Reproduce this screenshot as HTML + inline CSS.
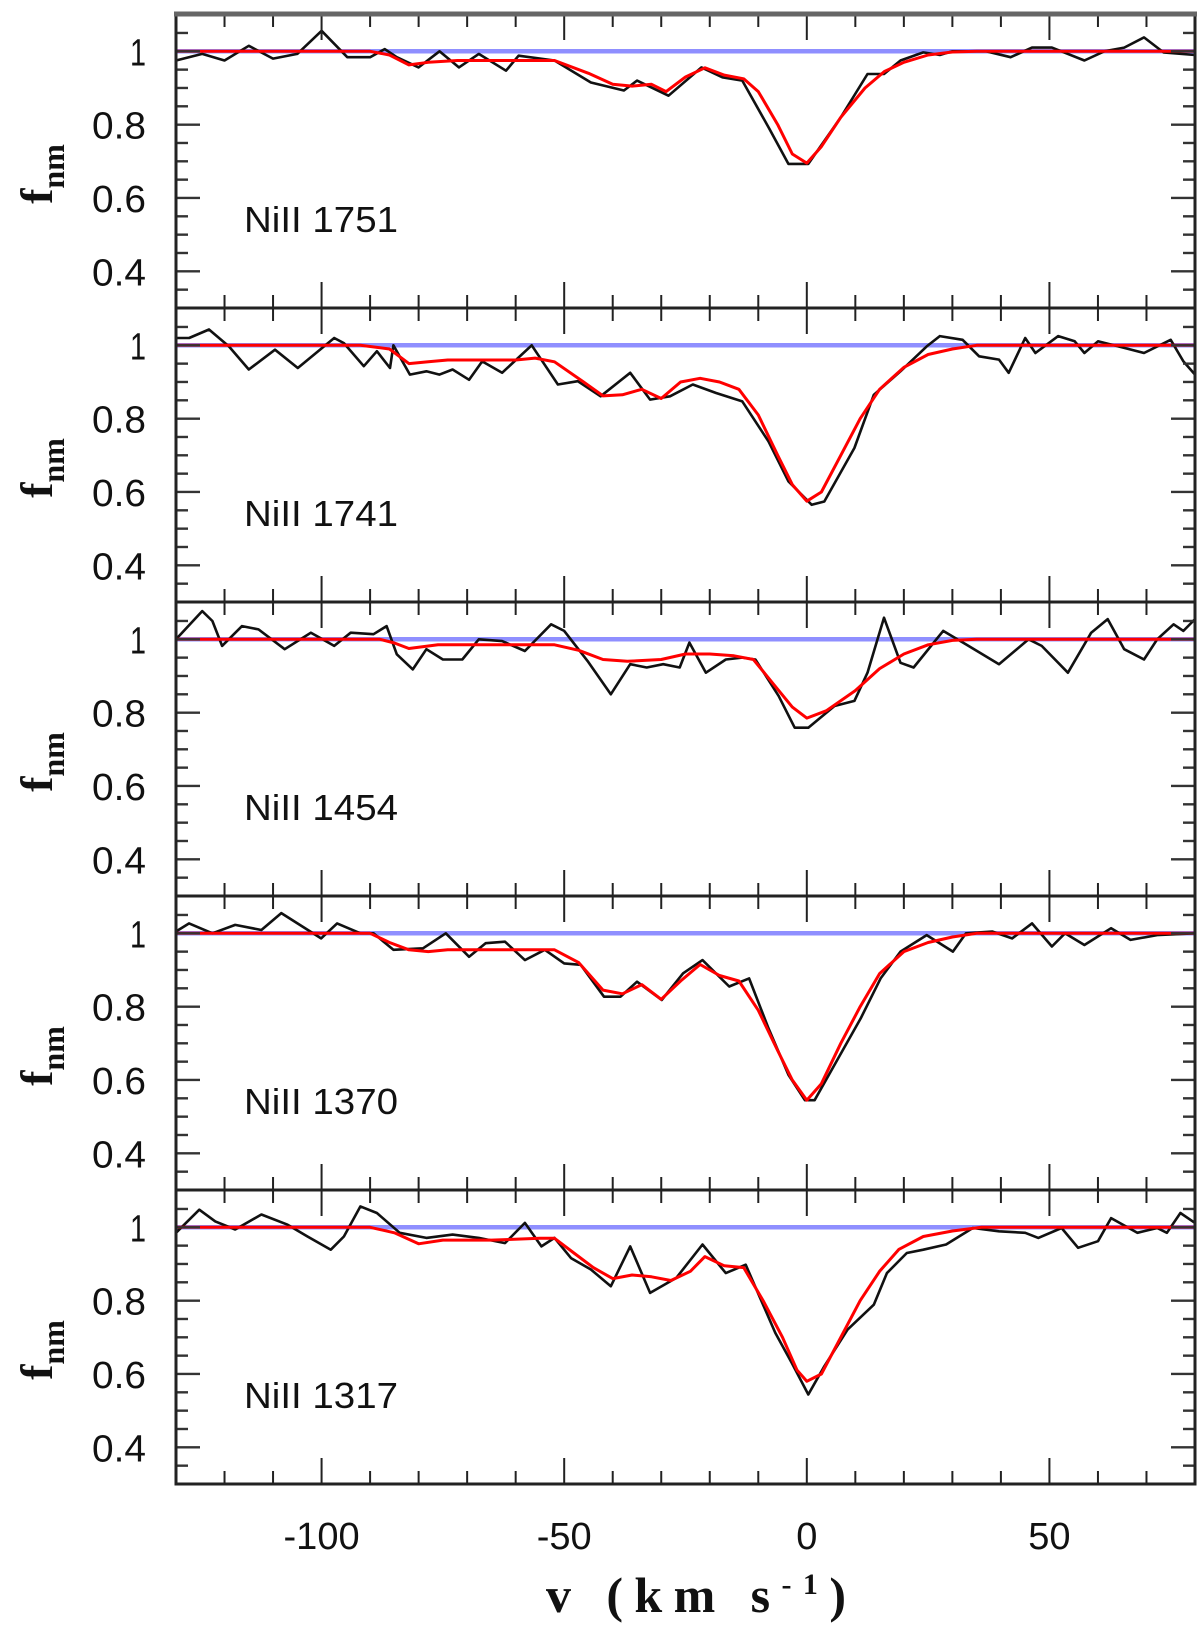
<!DOCTYPE html>
<html><head><meta charset="utf-8">
<style>
html,body{margin:0;padding:0;background:#fff;}
svg{display:block;}
</style></head>
<body>
<svg id="chart" width="1200" height="1630" viewBox="0 0 1200 1630" xmlns="http://www.w3.org/2000/svg"></svg>
<script>
// ---- data ----
const panelLabels = ["NiII 1751","NiII 1741","NiII 1454","NiII 1370","NiII 1317"];
const yTickValues = [0.4,0.6,0.8,1];
const yTickLabels = ["0.4","0.6","0.8","1"];
const xTickValues = [-100,-50,0,50];
const xTickLabels = ["-100","-50","0","50"];

const v1 = [-130,-124.6,-120,-115,-110,-105,-100,-94.7,-90,-87,-84.5,-80,-75.7,-71.7,-67.6,-62,-59.4,-52,-44.5,-37.7,-35,-28.5,-21.7,-17.4,-13.3,-7.9,-3.8,0.3,7,12.5,15.9,19.3,24,27.4,30,37,42,46.4,50.5,57.2,61.3,65.4,69.5,73.5,80];
const f1 = [0.975,0.993,0.975,1.015,0.98,0.993,1.056,0.984,0.984,1.006,0.984,0.956,1.0,0.956,0.993,0.947,0.988,0.975,0.915,0.893,0.92,0.879,0.956,0.929,0.92,0.793,0.693,0.693,0.82,0.938,0.938,0.975,0.997,0.99,1.0,1.0,0.984,1.01,1.01,0.975,1.0,1.01,1.038,0.997,0.99];
const mv1 = [-130,-90,-86,-82,-78,-72,-60,-52,-45,-40,-36,-32,-29,-25,-21,-17,-13,-10,-6,-3,0,3,7,12,16,20,25,30,35,80];
const mf1 = [1,1,0.99,0.963,0.97,0.975,0.975,0.975,0.94,0.91,0.905,0.91,0.89,0.93,0.955,0.935,0.925,0.89,0.80,0.72,0.695,0.74,0.82,0.9,0.945,0.97,0.99,0.998,1,1];

const v2 = [-130,-127.3,-123.2,-119.1,-115,-109.6,-104.9,-97.4,-95.4,-91.3,-88.6,-85.9,-85.2,-81.8,-78.4,-75.7,-73,-69.6,-66.9,-62.8,-56.7,-51.3,-47.2,-42.5,-36.4,-32.3,-28.2,-23.5,-18.7,-13.3,-7.9,-3.8,1,3.6,9.8,13.8,19.3,24.7,27.4,32.1,35.5,39.6,41.6,45,47.1,51.8,55.2,57.2,60,65.4,69.5,75,77.6,80];
const f2 = [1.02,1.02,1.043,0.997,0.934,0.988,0.938,1.02,1.006,0.943,0.984,0.938,1.0,0.92,0.929,0.92,0.934,0.906,0.956,0.925,1.0,0.893,0.902,0.861,0.925,0.852,0.861,0.893,0.87,0.847,0.738,0.629,0.565,0.574,0.72,0.865,0.929,0.997,1.025,1.015,0.97,0.961,0.925,1.02,0.979,1.025,1.011,0.979,1.011,0.993,0.979,1.015,0.956,0.92];
const mv2 = [-130,-92,-86,-82,-78,-74,-60,-56,-52,-46,-42,-38,-34,-30,-26,-22,-18,-14,-10,-6,-3,0,3,7,11,15,20,25,30,35,80];
const mf2 = [1,1,0.99,0.95,0.955,0.96,0.96,0.965,0.955,0.9,0.862,0.865,0.88,0.855,0.9,0.91,0.9,0.88,0.81,0.7,0.62,0.575,0.6,0.7,0.8,0.88,0.94,0.975,0.99,1,1];

const v3 = [-130,-124.6,-122.5,-120.5,-116.4,-113,-107.6,-102.2,-97.4,-94,-89.3,-86.6,-84.5,-81.2,-78.4,-75,-71,-67.6,-62.8,-58.1,-52.7,-50,-45.2,-40.4,-36.4,-33,-29.6,-26.2,-24.2,-20.8,-16.7,-13.3,-10.6,-5.8,-2.5,0.3,5.7,9.8,12.5,15.9,19.3,22,28.1,32.8,39.6,45.7,48.4,53.8,58.6,62,65.4,69.5,72.2,75.6,77.6,80];
const f3 = [1.0,1.077,1.05,0.982,1.036,1.027,0.973,1.018,0.982,1.018,1.014,1.036,0.959,0.918,0.973,0.945,0.945,1.0,0.995,0.968,1.041,1.023,0.941,0.85,0.932,0.923,0.932,0.923,0.991,0.909,0.945,0.95,0.945,0.845,0.759,0.759,0.818,0.832,0.909,1.059,0.936,0.923,1.023,0.986,0.932,1.0,0.982,0.909,1.018,1.055,0.973,0.945,1.0,1.041,1.023,1.055];
const mv3 = [-130,-88,-85,-82,-76,-65,-52,-47,-42,-37,-30,-25,-20,-15,-11,-7,-3,0,4,10,15,20,25,30,35,80];
const mf3 = [1,1,0.99,0.975,0.985,0.985,0.985,0.97,0.945,0.94,0.945,0.96,0.96,0.955,0.945,0.88,0.815,0.785,0.805,0.86,0.92,0.96,0.985,0.997,1,1];

const v4 = [-130,-127.3,-122.5,-117.8,-112.4,-108.3,-100.1,-96.8,-92,-89.3,-85.2,-79.1,-74.4,-69.6,-66.2,-62.2,-58.1,-54,-50,-46.6,-41.8,-38.4,-35,-29.9,-25.5,-21.5,-16,-11.9,-7.9,-3.8,-0.4,1.6,5.7,11.1,15.2,19.3,24.7,30.1,32.8,38.2,42.3,46.4,50.5,53.2,57.2,62.7,66.7,72.2,80];
const f4 = [1.005,1.027,1.0,1.023,1.009,1.055,0.986,1.027,1.0,1.0,0.955,0.959,1.0,0.936,0.973,0.977,0.927,0.955,0.918,0.914,0.827,0.827,0.868,0.818,0.891,0.927,0.855,0.877,0.741,0.614,0.545,0.545,0.641,0.768,0.877,0.95,0.995,0.95,1.0,1.005,0.986,1.027,0.964,1.0,0.968,1.014,0.982,0.995,1.0];
const mv4 = [-130,-90,-86,-82,-78,-74,-66,-58,-52,-47,-42,-38,-34,-30,-26,-22,-18,-14,-10,-6,-3,0,3,7,11,15,20,25,30,35,80];
const mf4 = [1,1,0.975,0.955,0.95,0.955,0.955,0.955,0.955,0.92,0.845,0.835,0.86,0.82,0.87,0.915,0.885,0.87,0.79,0.68,0.6,0.545,0.59,0.7,0.8,0.89,0.95,0.975,0.99,1,1];

const v5 = [-130,-125.2,-121.9,-117.8,-112.4,-107,-102.9,-98.1,-95.4,-92,-88.6,-83.9,-78.4,-73,-67.6,-62.2,-58.1,-54.7,-52,-48.6,-44.5,-40.4,-36.4,-32.3,-26.9,-21.5,-16.7,-12.6,-6.5,-3.1,0.3,3.6,8.4,13.8,16.5,20.6,24,28.7,34.2,39.6,45,47.7,52.5,55.9,60,62.7,68.1,72.2,74.2,77,80];
const f5 = [0.985,1.048,1.016,0.994,1.035,1.007,0.975,0.939,0.975,1.057,1.039,0.985,0.971,0.98,0.971,0.957,1.012,0.948,0.971,0.916,0.885,0.839,0.948,0.821,0.862,0.953,0.875,0.898,0.712,0.63,0.544,0.621,0.721,0.789,0.875,0.93,0.939,0.953,0.998,0.989,0.985,0.971,0.998,0.944,0.962,1.025,0.985,0.998,0.985,1.039,1.012];
const mv5 = [-130,-90,-85,-80,-75,-65,-55,-52,-48,-44,-40,-36,-32,-28,-24,-21,-17,-13,-9,-5,-2,0,3,7,11,15,19,24,30,36,80];
const mf5 = [1,1,0.985,0.955,0.965,0.965,0.97,0.97,0.93,0.89,0.86,0.87,0.865,0.855,0.88,0.92,0.895,0.89,0.8,0.7,0.61,0.58,0.6,0.7,0.8,0.88,0.94,0.975,0.99,1,1];

const dataV = [v1,v2,v3,v4,v5];
const dataF = [f1,f2,f3,f4,f5];
const modelV = [mv1,mv2,mv3,mv4,mv5];
const modelF = [mf1,mf2,mf3,mf4,mf5];

// ---- layout ----
const NS = "http://www.w3.org/2000/svg";
const svg = document.getElementById("chart");
const X0 = 176, X1 = 1195, TOP = 14, PH = 294;
const XMIN = -130, XMAX = 80, YMIN = 0.3, YMAX = 1.1017;
function xs(v){ return X0 + (v - XMIN) / (XMAX - XMIN) * (X1 - X0); }
function ys(p, f){ return TOP + p*PH + (YMAX - f) / (YMAX - YMIN) * PH; }
function mk(tag, attrs, parent){
  const e = document.createElementNS(NS, tag);
  for (const k in attrs) e.setAttribute(k, attrs[k]);
  (parent || svg).appendChild(e);
  return e;
}
function pathFrom(vs, fs, p){
  return vs.map((v,i)=> (i? "L":"M") + xs(v).toFixed(1) + " " + ys(p, fs[i]).toFixed(1)).join(" ");
}

for (let p = 0; p < 5; p++){
  const g = mk("g", {});
  
  
  const py0 = TOP + p*PH, py1 = py0 + PH;

  const cont = mk("line", {x1:X0, x2:X1, y1:ys(p,1), y2:ys(p,1), stroke:"#6a6aff", "stroke-width":4.5, "stroke-opacity":0.75}, g);
  
  

  const dl = mk("path", {d:pathFrom(dataV[p], dataF[p], p), fill:"none", stroke:"#111", "stroke-width":2.6, "stroke-linejoin":"round"}, g);
  
  

  const ml = mk("path", {d:pathFrom(modelV[p], modelF[p], p), fill:"none", stroke:"#ff0000", "stroke-width":3, "stroke-linejoin":"round"}, g);
  
  

  for (let v = -120; v <= 80; v += 10){
    const major = (v % 50 === 0);
    const L = major ? 26 : 13;
    mk("line", {x1:xs(v), x2:xs(v), y1:py0, y2:py0+L, stroke:"#222", "stroke-width":2}, g);
    mk("line", {x1:xs(v), x2:xs(v), y1:py1, y2:py1-L, stroke:"#222", "stroke-width":2}, g);
  }
  for (let k = 7; k <= 21; k++){
    const f = k*0.05;
    const yy = ys(p, f);
    if (yy < py0+2 || yy > py1-2) continue;
    const major = (k % 4 === 0);
    const L = major ? 24 : 12;
    mk("line", {x1:X0, x2:X0+L, y1:yy, y2:yy, stroke:"#333", "stroke-width":2.4}, g);
    mk("line", {x1:X1, x2:X1-L, y1:yy, y2:yy, stroke:"#333", "stroke-width":2.4}, g);
  }
  yTickValues.forEach((f,i)=>{
    const t = mk("text", {x:146, y:ys(p,f)+14, "text-anchor":"end", "font-family":"Liberation Sans, sans-serif", "font-size":38, fill:"#111", "textLength":(yTickLabels[i].length>1?54:16), lengthAdjust:"spacingAndGlyphs"}, g);
    t.textContent = yTickLabels[i];
    
    
  });
  const lab = mk("text", {x:244, y:py0+218, "font-family":"Liberation Sans, sans-serif", "font-size":36, fill:"#111", textLength:154, lengthAdjust:"spacingAndGlyphs"}, g);
  lab.textContent = panelLabels[p];
  
  
  const yc = py0 + 160;
  const yt = mk("text", {x:0, y:0, transform:"translate(52," + yc + ") rotate(-90)", "text-anchor":"middle", "font-family":"Liberation Serif, serif", "font-weight":"bold", "font-size":46, fill:"#111"}, g);
  yt.innerHTML = 'f<tspan dy="12" font-size="32">nm</tspan>';
  
  
  const fr = mk("rect", {x:X0, y:py0, width:X1-X0, height:PH, fill:"none", stroke:"#222", "stroke-width":3}, g);
  
  
}
mk("line", {x1:X0-2, x2:X1+2, y1:TOP, y2:TOP, stroke:"#666", "stroke-width":5});

xTickValues.forEach((v,i)=>{
  const t = mk("text", {x:xs(v), y:1549, "text-anchor":"middle", "font-family":"Liberation Sans, sans-serif", "font-size":38, fill:"#111"});
  t.textContent = xTickLabels[i];
  
  
});
const xt = mk("text", {x:546, y:1612, "font-family":"Liberation Serif, serif", "font-weight":"bold", "font-size":50, fill:"#111", textLength:300, lengthAdjust:"spacing"});
xt.innerHTML = 'v (km s<tspan dy="-18" font-size="30">-1</tspan><tspan dy="18">)</tspan>';


</script>
</body></html>
